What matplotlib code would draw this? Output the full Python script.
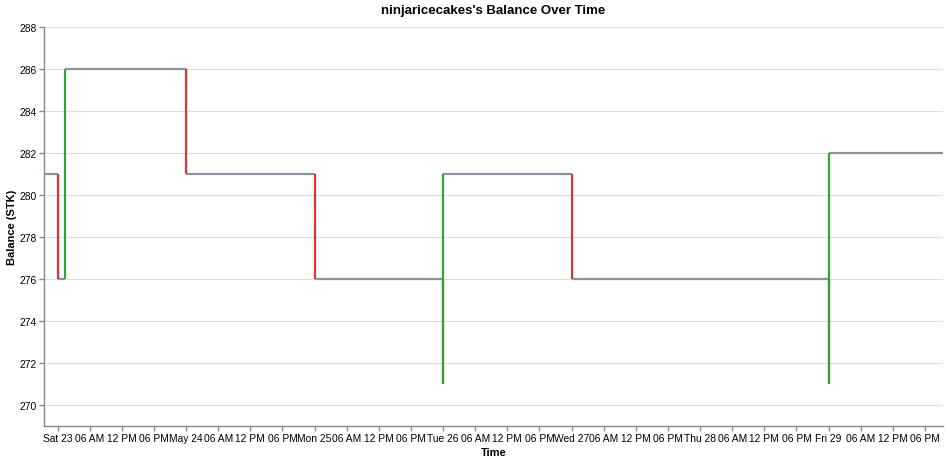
"""
余额随时间变化 - 阶梯图
"""

import pandas as pd
import matplotlib
matplotlib.use('Agg')
import matplotlib.pyplot as plt
from matplotlib.ticker import FuncFormatter

plt.rcParams['font.family'] = ['Liberation Sans', 'DejaVu Sans']

# 交易时间与交易后余额
times = pd.to_datetime([
    '2026-05-22 21:28', '2026-05-23 00:05', '2026-05-23 01:25',
    '2026-05-24 00:02', '2026-05-25 00:05', '2026-05-26 00:00',
    '2026-05-26 00:01', '2026-05-27 00:03', '2026-05-29 00:00',
    '2026-05-29 00:01', '2026-05-29 21:22',
])
balances = [281, 276, 286, 281, 276, 271, 281, 276, 271, 282, 282]

title = "ninjaricecakes's Balance Over Time"
x_title = 'Time'
y_title = 'Balance (STK)'

GRAY = '#8a94a1'
RED = '#dc3535'
GREEN = '#2ca53c'

fig = plt.figure(figsize=(9.51, 4.64), dpi=100)
ax = fig.add_axes([44 / 951, 37 / 464, 899 / 951, 399 / 464])

# 水平段
for i in range(1, len(times)):
    ax.plot([times[i - 1], times[i]], [balances[i - 1], balances[i - 1]],
            color=GRAY, lw=1.6, solid_capstyle='butt', zorder=3)

# 垂直段: 下降红色, 上升绿色 (红色先画)
for want in ('down', 'up'):
    for i in range(1, len(times)):
        b0, b1 = balances[i - 1], balances[i]
        if b0 == b1:
            continue
        if (b1 < b0) != (want == 'down'):
            continue
        ax.plot([times[i], times[i]], [b0, b1],
                color=RED if b1 < b0 else GREEN, lw=1.6,
                solid_capstyle='butt', zorder=4)

ax.set_xlim(times[0], times[-1])
ax.set_ylim(269, 288)
ax.set_yticks(range(270, 289, 2))

xticks = pd.date_range('2026-05-23', '2026-05-29 18:00', freq='6h')
ax.set_xticks(xticks)


def fmt_time(x, pos):
    if pos is None or pos >= len(xticks):
        return ''
    t = xticks[pos]
    if t.hour == 0:
        if t.weekday() == 6:
            return t.strftime('%b %d')
        return t.strftime('%a %d')
    return t.strftime('%I %p')


ax.xaxis.set_major_formatter(FuncFormatter(fmt_time))

ax.grid(axis='y', color='#dddddd', lw=0.8)
ax.set_axisbelow(True)
for s in ('top', 'right'):
    ax.spines[s].set_visible(False)
for s in ('left', 'bottom'):
    ax.spines[s].set_color('#888888')
    ax.spines[s].set_linewidth(1)
ax.tick_params(direction='out', length=3.8, width=1, color='#888888',
               labelsize=7.4, labelcolor='#000000', pad=1.2)

cx = ax.get_position().x0 + ax.get_position().width / 2
fig.text(cx, 1 - 11 / 464, title, ha='center', va='center',
         fontsize=9.5, fontweight='bold')
fig.text(cx, 1 - 453 / 464, x_title, ha='center', va='center',
         fontsize=8, fontweight='bold')
fig.text(12 / 951, 1 - 227 / 464, y_title, ha='center', va='center',
         rotation=90, fontsize=8, fontweight='bold')

fig.savefig('out.png', dpi=100)
